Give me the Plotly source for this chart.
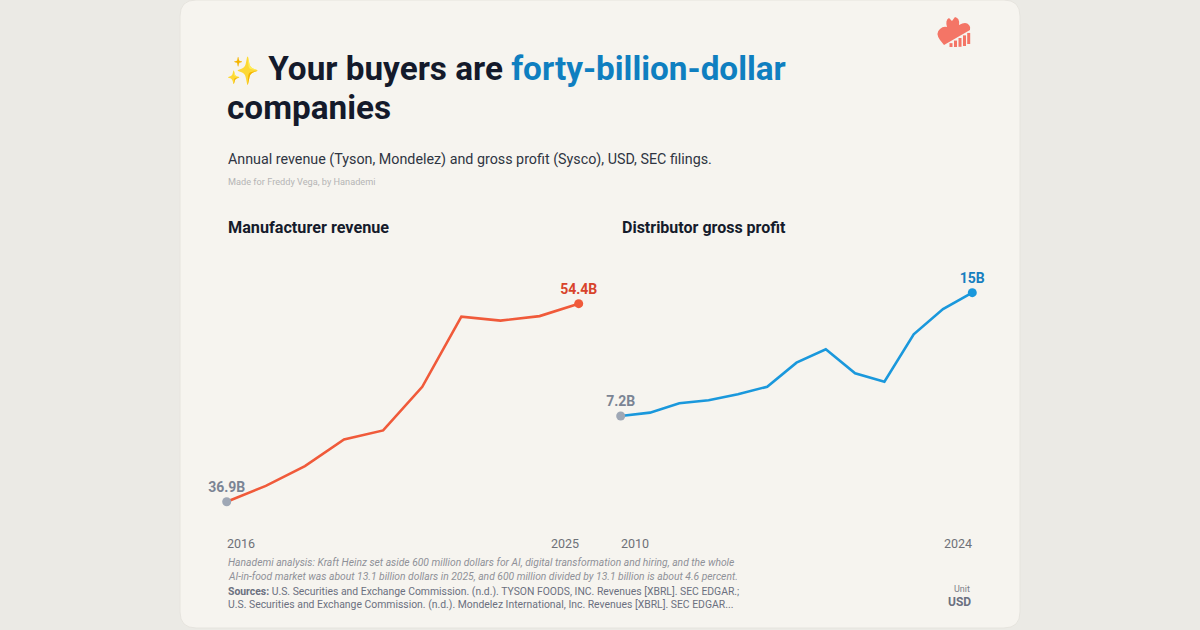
import plotly.graph_objects as go

# ---------------- data ----------------
mfg_years = ["2016", "2017", "2018", "2019", "2020", "2021", "2022", "2023", "2024", "2025"]
mfg_revenue = [36.9, 38.3, 40.05, 42.4, 43.2, 47.05, 53.25, 52.9, 53.3, 54.4]

dist_years = ["2010", "2011", "2013", "2014", "2015", "2016", "2017", "2019", "2020", "2021", "2022", "2023", "2024"]
dist_gross_profit = [7.2, 7.41, 8.0, 8.19, 8.57, 9.05, 10.57, 11.42, 9.9, 9.37, 12.36, 13.96, 15.0]

mfg_label_first = "36.9B"
mfg_label_last = "54.4B"
dist_label_first = "7.2B"
dist_label_last = "15B"

# ---------------- helpers ----------------
W, H = 1200, 630


def px(x):
    return x / W


def py(y):
    return 1 - y / H


FONT = "Roboto"
ORANGE = "#f05a3a"
ORANGE_TXT = "#d8432b"
BLUE = "#1a98dc"
BLUE_TXT = "#167fbf"
GREY_DOT = "#9ea7b5"
GREY_TXT = "#7b8494"
LOGO = "#f47566"

mfg_x = list(range(len(mfg_years)))
dist_x = list(range(len(dist_years)))

fig = go.Figure()

fig.add_trace(go.Scatter(
    x=mfg_x, y=mfg_revenue, mode="lines", xaxis="x", yaxis="y",
    line=dict(color=ORANGE, width=2.6), hoverinfo="skip", cliponaxis=False, showlegend=False))
fig.add_trace(go.Scatter(
    x=[mfg_x[0], mfg_x[-1]], y=[mfg_revenue[0], mfg_revenue[-1]], mode="markers+text",
    text=[f"<b>{mfg_label_first}</b>", f"<b>{mfg_label_last}</b>"], textposition="top center",
    textfont=dict(size=14, color=[GREY_TXT, ORANGE_TXT], family=FONT),
    xaxis="x", yaxis="y", marker=dict(color=[GREY_DOT, ORANGE], size=9),
    hoverinfo="skip", cliponaxis=False, showlegend=False))

fig.add_trace(go.Scatter(
    x=dist_x, y=dist_gross_profit, mode="lines", xaxis="x2", yaxis="y2",
    line=dict(color=BLUE, width=2.6), hoverinfo="skip", cliponaxis=False, showlegend=False))
fig.add_trace(go.Scatter(
    x=[dist_x[0], dist_x[-1]], y=[dist_gross_profit[0], dist_gross_profit[-1]], mode="markers+text",
    text=[f"<b>{dist_label_first}</b>", f"<b>{dist_label_last}</b>"], textposition="top center",
    textfont=dict(size=14, color=[GREY_TXT, BLUE_TXT], family=FONT),
    xaxis="x2", yaxis="y2", marker=dict(color=[GREY_DOT, BLUE], size=9),
    hoverinfo="skip", cliponaxis=False, showlegend=False))

ydom = [py(510), py(280)]
axis_common = dict(showgrid=False, zeroline=False, showline=False, showticklabels=False, ticks="",
                   fixedrange=True)

fig.update_layout(
    width=W, height=H,
    margin=dict(l=0, r=0, t=0, b=0),
    paper_bgcolor="#ebeae5",
    plot_bgcolor="rgba(0,0,0,0)",
    font=dict(family=FONT, color="#333a45"),
    hovermode=False,
    xaxis=dict(domain=[px(226.7), px(578.7)], range=[0, len(mfg_years) - 1], **axis_common),
    yaxis=dict(domain=ydom, range=[36.17, 56.49], **axis_common),
    xaxis2=dict(domain=[px(620.7), px(972.3)], range=[0, len(dist_years) - 1], anchor="y2", **axis_common),
    yaxis2=dict(domain=ydom, range=[1.25, 15.80], anchor="x2", **axis_common),
)

# ---------------- card ----------------
x0, x1, y0, y1, r = 180, 1020, 0, 628, 16
path = (
    f"M {px(x0 + r)},{py(y0)} L {px(x1 - r)},{py(y0)} "
    f"Q {px(x1)},{py(y0)} {px(x1)},{py(y0 + r)} "
    f"L {px(x1)},{py(y1 - r)} Q {px(x1)},{py(y1)} {px(x1 - r)},{py(y1)} "
    f"L {px(x0 + r)},{py(y1)} Q {px(x0)},{py(y1)} {px(x0)},{py(y1 - r)} "
    f"L {px(x0)},{py(y0 + r)} Q {px(x0)},{py(y0)} {px(x0 + r)},{py(y0)} Z"
)
shapes = [dict(type="path", xref="paper", yref="paper", path=path,
               fillcolor="#f6f4ef", line=dict(color="#e6e4de", width=1), layer="below")]


# ---------------- logo (blossom + bars) ----------------
def P(x, y):
    return f"{px(x)},{py(y)}"


blossom = (
    f"M {P(944, 45)} L {P(940, 40)} Q {P(935, 33)} {P(940, 29)} Q {P(943, 26)} {P(947, 27)} "
    f"Q {P(945, 20)} {P(949, 18)} L {P(952, 21)} L {P(955, 17)} Q {P(960, 18)} {P(959, 25)} "
    f"Q {P(966, 21)} {P(969, 25)} Q {P(971, 27)} {P(970, 30)} Z"
)
shapes.append(dict(type="path", xref="paper", yref="paper", path=blossom,
                   fillcolor=LOGO, line=dict(width=0)))


def diag(x):
    return 45 - (x - 944) * (15.0 / 26.0)


for bx, bottom in [(951, 47), (955.5, 47), (960, 46.8), (964.5, 46), (968.7, 44)]:
    shapes.append(dict(type="line", xref="paper", yref="paper",
                       x0=px(bx), y0=py(bottom), x1=px(bx), y1=py(diag(bx) + 2.2),
                       line=dict(color=LOGO, width=3)))
fig.update_layout(shapes=shapes)

# ---------------- text ----------------
ann = []


def text(x, y, t, size, color, bold=False, italic=False, xanchor="left", yanchor="middle"):
    s = t
    if bold:
        s = f"<b>{s}</b>"
    if italic:
        s = f"<i>{s}</i>"
    ann.append(dict(xref="paper", yref="paper", x=px(x), y=py(y), text=s, showarrow=False,
                    xanchor=xanchor, yanchor=yanchor, align="left",
                    font=dict(size=size, color=color, family=FONT)))


text(224, 68, "<span style='font-size:27px'>✨</span> Your buyers are <span style='color:#0f7fc0'>forty-billion-dollar</span>",
     33.3, "#141a2b", bold=True)
text(225, 107, "companies", 33.3, "#141a2b", bold=True)
text(226, 159, "Annual revenue (Tyson, Mondelez) and gross profit (Sysco), USD, SEC filings.", 14.3, "#2f3542")
text(226, 181, "Made for Freddy Vega, by Hanademi", 9.2, "#b5b5b5")

text(226, 227, "Manufacturer revenue", 16.2, "#151b2b", bold=True)
text(620, 227, "Distributor gross profit", 16.0, "#151b2b", bold=True)

text(226, 562, "Hanademi analysis: Kraft Heinz set aside 600 million dollars for AI, digital transformation and hiring, and the whole",
     10.3, "#8f9198", italic=True)
text(226, 576, "AI-in-food market was about 13.1 billion dollars in 2025, and 600 million divided by 13.1 billion is about 4.6 percent.",
     10.3, "#8f9198", italic=True)
text(226, 591, "<b>Sources:</b> U.S. Securities and Exchange Commission. (n.d.). TYSON FOODS, INC. Revenues [XBRL]. SEC EDGAR.;",
     10.4, "#6b7080")
text(226, 604, "U.S. Securities and Exchange Commission. (n.d.). Mondelez International, Inc. Revenues [XBRL]. SEC EDGAR...",
     10.4, "#6b7080")
text(972, 589, "Unit", 9, "#7d8088", xanchor="right")
text(973, 602, "USD", 12, "#6b7080", bold=True, xanchor="right")

# axis-end tick labels (positioned on the x axes)
tick_font = dict(size=12.5, color="#6e7178", family=FONT)
tick_y = py(543)
ann += [
    dict(xref="x", yref="paper", x=mfg_x[0], y=tick_y, text=mfg_years[0], showarrow=False,
         xanchor="left", yanchor="middle", xshift=-2, font=tick_font),
    dict(xref="x", yref="paper", x=mfg_x[-1], y=tick_y, text=mfg_years[-1], showarrow=False,
         xanchor="right", yanchor="middle", xshift=2, font=tick_font),
    dict(xref="x2", yref="paper", x=dist_x[0], y=tick_y, text=dist_years[0], showarrow=False,
         xanchor="left", yanchor="middle", xshift=-2, font=tick_font),
    dict(xref="x2", yref="paper", x=dist_x[-1], y=tick_y, text=dist_years[-1], showarrow=False,
         xanchor="right", yanchor="middle", xshift=2, font=tick_font),
]

fig.update_layout(annotations=ann)

fig.write_html(
    "out.html",
    config={"displayModeBar": False, "staticPlot": True},
    post_script="document.body.style.margin='0';document.body.style.background='#ebeae5';",
)
